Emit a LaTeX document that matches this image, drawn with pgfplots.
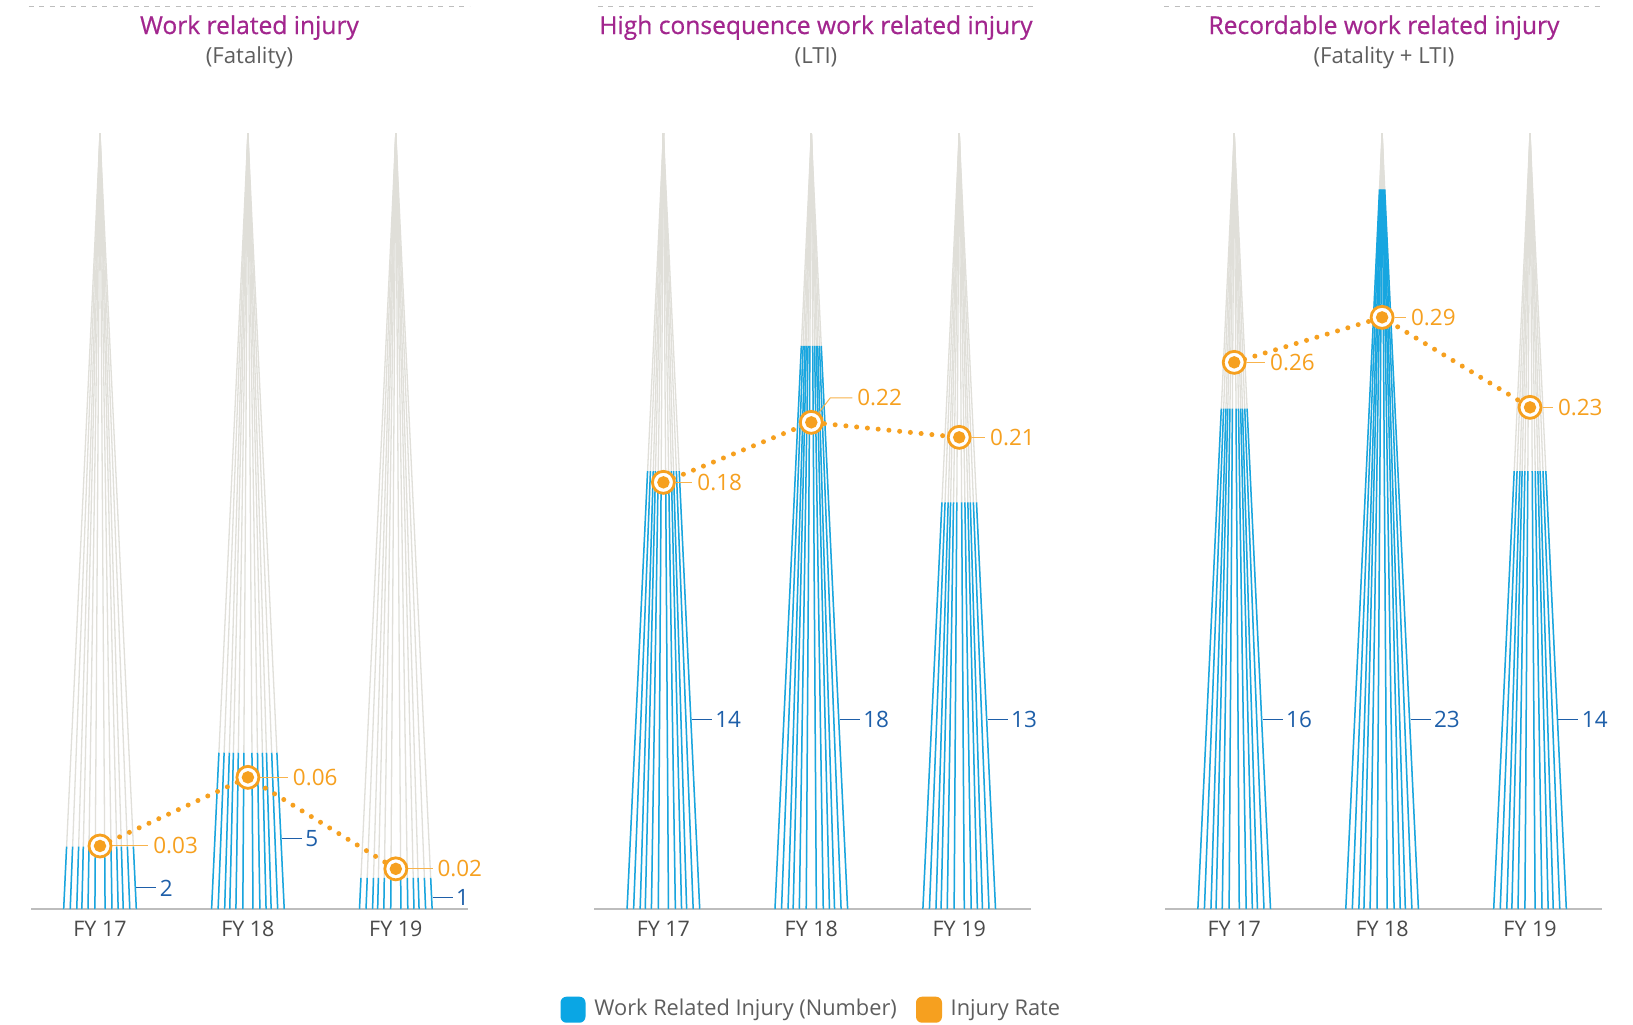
\documentclass[border=0pt]{standalone}
\usepackage{pgfplots}
\usepackage{pgfplotstable}
\pgfplotsset{compat=1.18}
\usetikzlibrary{calc}
\usepackage{fontspec}
\setmainfont{Open Sans}
\newfontfamily\titlefamily{Open Sans}[FakeBold=0.6]

\definecolor{spireblue}{HTML}{17A6E0}
\definecolor{spiregray}{HTML}{E0DFD9}
\definecolor{numblue}{HTML}{1E5FA9}
\definecolor{rateorange}{HTML}{F6A01F}
\definecolor{titlepurple}{HTML}{A2268E}
\definecolor{subgray}{HTML}{5E5E5E}
\definecolor{labelgray}{HTML}{4A4A4A}
\definecolor{basegray}{HTML}{BDBDBD}
\definecolor{legendblue}{HTML}{0AA6E4}

\newcommand\titlefont{\titlefamily\fontsize{7.0}{8.2}\selectfont}
\newcommand\subfont{\fontsize{6.3}{7.5}\selectfont}
\newcommand\numfont{\fontsize{6.4}{7.5}\selectfont}
\newcommand\tickfont{\fontsize{6.1}{7.2}\selectfont}
\newcommand\legendfont{\fontsize{6.2}{7.3}\selectfont}

% idx: category, count: injuries, rate: injury rate,
% ly: height of the count label, kx/ky/lead: rate label leader (mm)
\pgfplotstableread{
idx count rate ly   kx   ky   lead
0   2     0.03 0.68 1.25 0    4.83
1   5     0.06 2.26 1.25 0    4.0
2   1     0.02 0.36 1.25 0    3.67
}\fatality

\pgfplotstableread{
idx count rate ly   kx   ky   lead
0   14    0.18 6.06 1.25 0    2.9
1   18    0.22 6.06 1.9  2.45 4.1
2   13    0.21 6.06 1.25 0    2.6
}\lti

\pgfplotstableread{
idx count rate ly   kx   ky   lead
0   16    0.26 6.06 1.25 0    3.1
1   23    0.29 6.06 1.25 0    2.4
2   14    0.23 6.06 1.25 0    2.3
}\recordable

\def\spiretop{24.8}
\def\spirehalf{0.2456}
\def\spireoffsets{-1,-0.82,-0.64,-0.5,-0.33,-0.14,0.14,0.33,0.5,0.64,0.82,1}

\pgfplotsset{
  spireaxis/.style={
    scale only axis, width=43.7mm, height=77.6mm,
    xmin=-0.4665, xmax=2.488, ymin=0, ymax=\spiretop,
    clip=false, anchor=south west,
    axis x line=bottom, axis y line=none,
    axis line style={draw=basegray, line width=0.15mm, -},
    xtick={0,1,2}, xticklabels={FY 17,FY 18,FY 19},
    major tick length=0pt, xtick style={draw=none},
    xticklabel style={font=\tickfont, text=labelgray, anchor=base,
      inner sep=0pt, yshift=-2.75mm},
  },
  rateaxis/.style={
    scale only axis, width=43.7mm, height=77.6mm,
    xmin=-0.4665, xmax=2.488,
    clip=false, anchor=south west, hide axis,
  },
  grayline/.style={draw=spiregray, line width=0.13mm, no marks, forget plot},
  blueline/.style={draw=spireblue, line width=0.15mm, no marks, forget plot},
  rateline/.style={draw=rateorange, line width=0.5mm, line cap=round,
    dash pattern=on 0pt off 1.08mm, no marks},
  ratering/.style={only marks, mark=*, mark size=1.1mm,
    mark options={draw=rateorange, fill=white, line width=0.28mm, solid}},
  ratedot/.style={only marks, mark=*, mark size=0.55mm, color=rateorange,
    mark options={draw=none, fill=rateorange, solid}},
}

\tikzset{
  countleader/.style={draw=numblue, line width=0.1mm},
  countlabel/.style={anchor=west, inner sep=0pt, xshift=0.3mm, text=numblue, font=\numfont},
  rateleader/.style={draw=rateorange!80, line width=0.1mm},
  ratelabel/.style={anchor=west, inner sep=0pt, xshift=0.45mm, text=rateorange, font=\numfont},
}

% lines of every spire, gray up to the apex and blue up to the count
\newcommand\drawspires[1]{%
  \foreach \row in {0,1,2}{%
    \pgfplotstablegetelem{\row}{idx}\of#1\let\cx\pgfplotsretval
    \foreach \off in \spireoffsets{%
      \pgfmathsetmacro\xb{\cx+\off*\spirehalf}%
      \edef\temp{\noexpand\addplot[grayline] coordinates {(\xb,0) (\cx,\spiretop)};}%
      \temp
    }%
  }%
  \foreach \row in {0,1,2}{%
    \pgfplotstablegetelem{\row}{idx}\of#1\let\cx\pgfplotsretval
    \pgfplotstablegetelem{\row}{count}\of#1\let\cn\pgfplotsretval
    \pgfplotstablegetelem{\row}{ly}\of#1\let\cy\pgfplotsretval
    \foreach \off in \spireoffsets{%
      \pgfmathsetmacro\xb{\cx+\off*\spirehalf}%
      \pgfmathsetmacro\xt{\cx+\off*\spirehalf*(1-\cn/\spiretop)}%
      \edef\temp{\noexpand\addplot[blueline] coordinates {(\xb,0) (\xt,\cn)};}%
      \temp
    }%
    \pgfmathsetmacro\xe{\cx+\spirehalf*(1-\cy/\spiretop)}%
    \edef\temp{\noexpand\draw[countleader] ([xshift=0.1mm]axis cs:\xe,\cy) -- ([xshift=2.1mm]axis cs:\xe,\cy) node[countlabel] {\cn};}%
    \temp
  }%
}

% injury rate line with ringed markers and labels
\newcommand\drawrates[1]{%
  \addplot[rateline] table[x=idx, y=rate] {#1};
  \addplot[ratering] table[x=idx, y=rate] {#1};
  \addplot[ratedot] table[x=idx, y=rate] {#1};
  \foreach \row in {0,1,2}{%
    \pgfplotstablegetelem{\row}{idx}\of#1\let\cx\pgfplotsretval
    \pgfplotstablegetelem{\row}{rate}\of#1\let\cr\pgfplotsretval
    \pgfplotstablegetelem{\row}{kx}\of#1\let\kx\pgfplotsretval
    \pgfplotstablegetelem{\row}{ky}\of#1\let\ky\pgfplotsretval
    \pgfplotstablegetelem{\row}{lead}\of#1\let\lead\pgfplotsretval
    \edef\temp{%
      \noexpand\coordinate (rp) at (axis cs:\cx,\cr);
      \noexpand\coordinate (rk) at ($(rp)+(\kx mm,\ky mm)$);
      \noexpand\draw[rateleader] ($(rp)!1.25mm!(rk)$) -- (rk) -- ($(rp)+(\lead mm,\ky mm)$) node[ratelabel] {\cr};}%
    \temp
  }%
}

\begin{document}
\begin{tikzpicture}[x=1mm, y=1mm]
\fill[white] (0,-11.48) rectangle (163.3,90.92);

% panel titles and dashed rules
\foreach \cxp/\ttl/\sub/\xa/\xb in {
    24.95/Work related injury/(Fatality)/2.9/47.0,
    81.6/High consequence work related injury/(LTI)/59.78/103.42,
    138.4/Recordable work related injury/(Fatality + LTI)/116.4/160.4}{
  \draw[basegray, line width=0.12mm, dash pattern=on 0.5mm off 0.55mm] (\xa,90.3) -- (\xb,90.3);
  \node[anchor=base, inner sep=0, text=titlepurple, font=\titlefont] at (\cxp,87.52) {\ttl};
  \node[anchor=base, inner sep=0, text=subgray, font=\subfont] at (\cxp,84.59) {\sub};
}

% Work related injury (Fatality)
\begin{axis}[spireaxis, at={(3.1mm,0mm)}]
  \drawspires{\fatality}
\end{axis}
\begin{axis}[rateaxis, at={(3.1mm,0mm)}, ymin=0.00236, ymax=0.3416]
  \drawrates{\fatality}
\end{axis}

% High consequence work related injury (LTI)
\begin{axis}[spireaxis, at={(59.44mm,0mm)}]
  \drawspires{\lti}
\end{axis}
\begin{axis}[rateaxis, at={(59.44mm,0mm)}, ymin=-0.1046, ymax=0.4128]
  \drawrates{\lti}
\end{axis}

% Recordable work related injury (Fatality + LTI)
\begin{axis}[spireaxis, at={(116.52mm,0mm)}]
  \drawspires{\recordable}
\end{axis}
\begin{axis}[rateaxis, at={(116.52mm,0mm)}, ymin=-0.1046, ymax=0.4128]
  \drawrates{\recordable}
\end{axis}

% legend
\fill[legendblue, rounded corners=0.6mm] (56.05,-11.35) rectangle (58.55,-8.75);
\node[anchor=base west, inner sep=0, text=subgray, font=\legendfont] at (59.37,-10.63) {Work Related Injury (Number)};
\fill[rateorange, rounded corners=0.6mm] (91.6,-11.35) rectangle (94.2,-8.75);
\node[anchor=base west, inner sep=0, text=subgray, font=\legendfont] at (95.0,-10.63) {Injury Rate};
\end{tikzpicture}
\end{document}
